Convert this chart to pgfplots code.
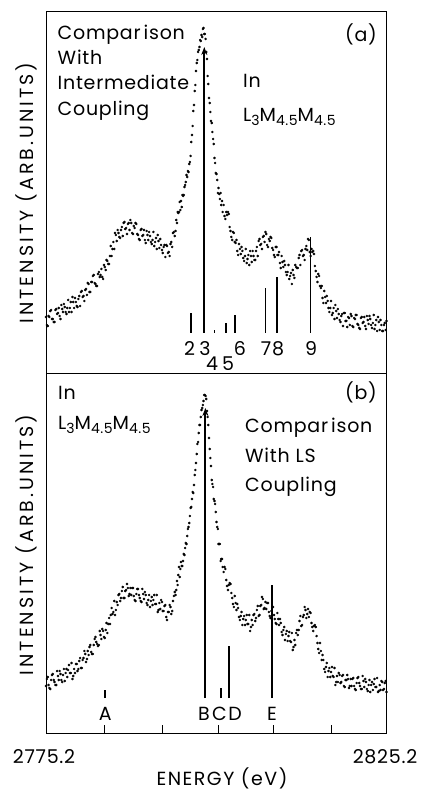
\documentclass[border=0pt]{standalone}
\usepackage{fontspec}
\setmainfont{Poppins}[LetterSpace=4]
\usepackage{pgfplots}
\pgfplotsset{compat=1.18}
\usetikzlibrary{arrows.meta}
\newcommand\bigf{\fontsize{19}{22}\selectfont}
\newcommand\subf[1]{\raisebox{-4pt}{\fontsize{14}{14}\selectfont #1}}
\newcommand\Comp{Compar\kern3pt ison}
\pgfplotsset{
  spec/.style={scale only axis, width=341pt, xmin=2775.2, xmax=2825.2, ymin=0,
    axis line style={line width=1pt}, ytick=\empty,
    /pgf/number format/assume math mode=true,
    ticklabel style={font=\bigf}, label style={font=\bigf}},
  data/.style={only marks, mark=*, mark size=1.05pt, black},
  stick/.style={black, line width=1.6pt},
}
\begin{document}
\begin{tikzpicture}
\useasboundingbox (0,0) rectangle (422pt,793pt);
% ---------------- panel (a)
\begin{axis}[spec, at={(46pt,419pt)}, anchor=south west, height=362pt, ymax=362,
  xtick=\empty,
  ylabel={\addfontfeature{LetterSpace=16}INTENSITY (ARB.UNITS)},
  ylabel style={at={(axis description cs:-0.057,0.5)}, anchor=center, inner sep=0pt}]
\addplot[data] coordinates {
(2775.20,57)(2775.45,48)(2775.70,57)(2775.95,64)(2776.20,55)(2776.45,52)(2776.70,65)(2776.95,61)(2777.20,58)(2777.45,69)(2777.70,62)(2777.95,67)(2778.20,60)(2778.45,74)(2778.70,66)(2778.95,62)(2779.20,72)(2779.45,76)(2779.70,68)(2779.95,75)(2780.20,68)(2780.45,83)(2780.70,78)(2780.95,84)(2781.20,79)(2781.45,90)(2781.70,82)(2781.95,92)(2782.20,99)(2782.45,90)(2782.70,88)(2782.95,102)(2783.20,99)(2783.45,97)(2783.70,109)(2783.95,104)(2784.20,113)(2784.45,110)(2784.70,128)(2784.95,125)(2785.20,125)(2785.45,139)(2785.70,144)(2785.95,137)(2786.20,144)(2786.45,138)(2786.70,152)(2786.95,146)(2787.20,150)(2787.45,144)(2787.70,151)(2787.95,140)(2788.20,146)(2788.45,150)(2788.70,139)(2788.95,134)(2789.20,145)(2789.45,139)(2789.70,134)(2789.95,143)(2790.20,134)(2790.45,138)(2790.70,130)(2790.95,142)(2791.20,132)(2791.45,125)(2791.70,133)(2791.95,135)(2792.20,124)(2792.45,127)(2792.70,117)(2792.95,128)(2793.20,122)(2793.45,130)(2793.70,127)(2793.95,142)(2794.20,143)
(2794.3,154)(2794.4,151)(2794.5,162)(2794.6,161)(2794.7,162)(2794.8,172)(2794.9,164)(2795.0,173)(2795.1,167)(2795.2,179)(2795.3,178)(2795.4,179)(2795.5,187)(2795.6,189)(2795.7,192)(2795.8,199)(2795.9,197)(2796.0,203)(2796.1,202)(2796.2,210)(2796.3,212)(2796.4,218)(2796.5,232)(2796.6,239)(2796.7,248)(2796.8,263)(2796.9,269)(2797.0,283)(2797.1,289)(2797.2,303)(2797.3,311)(2797.4,314)(2797.5,322)(2797.6,324)(2797.7,327)(2797.8,334)(2797.9,333)(2798.0,339)(2798.1,337)(2798.2,345)(2798.3,346)(2798.4,340)(2798.5,340)(2798.6,335)(2798.7,322)(2798.8,315)(2798.9,298)(2799.0,290)(2799.1,276)(2799.2,271)(2799.3,262)(2799.4,253)(2799.5,251)(2799.6,242)(2799.7,235)(2799.8,230)(2799.9,216)(2800.0,211)(2800.1,201)(2800.2,200)(2800.3,194)(2800.4,181)(2800.5,186)(2800.6,180)(2800.7,175)(2800.8,181)(2800.9,169)(2801.0,173)(2801.1,162)
(2801.25,169)(2801.50,155)(2801.75,159)(2802.00,160)(2802.25,143)(2802.50,134)(2802.75,141)(2803.00,131)(2803.25,123)(2803.50,130)(2803.75,120)(2804.00,123)(2804.25,113)(2804.50,125)(2804.75,115)(2805.00,109)(2805.25,118)(2805.50,123)(2805.75,114)(2806.00,123)(2806.25,118)(2806.50,135)(2806.75,130)(2807.00,137)(2807.25,132)(2807.50,140)(2807.75,127)(2808.00,133)(2808.25,136)(2808.50,124)(2808.75,117)(2809.00,127)(2809.25,119)(2809.50,111)(2809.75,118)(2810.00,107)(2810.25,109)(2810.50,99)(2810.75,109)(2811.00,98)(2811.25,90)(2811.50,99)(2811.75,109)(2812.00,106)(2812.25,116)(2812.50,109)(2812.75,124)(2813.00,119)(2813.25,125)(2813.50,124)(2813.75,134)(2814.00,118)(2814.25,122)(2814.50,120)(2814.75,103)(2815.00,92)(2815.25,98)(2815.50,86)(2815.75,76)(2816.00,83)(2816.25,71)(2816.50,73)(2816.75,62)(2817.00,73)(2817.25,61)(2817.50,55)(2817.75,63)(2818.00,65)(2818.25,54)(2818.50,58)(2818.75,48)(2819.00,61)(2819.25,53)(2819.50,57)(2819.75,49)(2820.00,58)(2820.25,47)(2820.50,55)(2820.75,59)(2821.00,49)(2821.25,45)(2821.50,57)(2821.75,52)(2822.00,48)(2822.25,58)(2822.50,50)(2822.75,55)(2823.00,46)(2823.25,59)(2823.50,49)(2823.75,43)(2824.00,52)(2824.25,54)(2824.50,43)(2824.75,49)(2825.00,44)
};
\addplot[data] coordinates {
(2775.325,49)(2775.575,58)(2775.825,63)(2776.075,55)(2776.325,52)(2776.575,64)(2776.825,60)(2777.075,66)(2777.325,55)(2777.575,65)(2777.825,70)(2778.075,62)(2778.325,66)(2778.575,62)(2778.825,72)(2779.075,77)(2779.325,66)(2779.575,72)(2779.825,67)(2780.075,78)(2780.325,82)(2780.575,77)(2780.825,73)(2781.075,85)(2781.325,91)(2781.575,82)(2781.825,92)(2782.075,98)(2782.325,91)(2782.575,88)(2782.825,100)(2783.075,97)(2783.325,105)(2783.575,95)(2783.825,107)(2784.075,114)(2784.325,110)(2784.575,118)(2784.825,118)(2785.075,132)(2785.325,141)(2785.575,133)(2785.825,141)(2786.075,136)(2786.325,147)(2786.575,151)(2786.825,145)(2787.075,140)(2787.325,151)(2787.575,154)(2787.825,141)(2788.075,148)(2788.325,151)(2788.575,140)(2788.825,135)(2789.075,144)(2789.325,138)(2789.575,144)(2789.825,131)(2790.075,139)(2790.325,142)(2790.575,132)(2790.825,134)(2791.075,128)(2791.325,136)(2791.575,139)(2791.825,126)(2792.075,129)(2792.325,121)(2792.575,129)(2792.825,129)(2793.075,121)(2793.325,118)(2793.575,132)(2793.825,141)(2794.075,138)
(2801.375,158)(2801.625,162)(2801.875,162)(2802.125,147)(2802.375,137)(2802.625,142)(2802.875,132)(2803.125,134)(2803.375,119)(2803.625,125)(2803.875,127)(2804.125,116)(2804.375,118)(2804.625,111)(2804.875,119)(2805.125,123)(2805.375,112)(2805.625,118)(2805.875,114)(2806.125,127)(2806.375,133)(2806.625,129)(2806.875,125)(2807.125,138)(2807.375,142)(2807.625,129)(2807.875,135)(2808.125,137)(2808.375,126)(2808.625,119)(2808.875,127)(2809.125,119)(2809.375,122)(2809.625,106)(2809.875,112)(2810.125,113)(2810.375,102)(2810.625,102)(2810.875,95)(2811.125,101)(2811.375,104)(2811.625,96)(2811.875,107)(2812.125,106)(2812.375,119)(2812.625,123)(2812.875,118)(2813.125,114)(2813.375,128)(2813.625,135)(2813.875,122)(2814.125,125)(2814.375,123)(2814.625,108)(2814.875,97)(2815.125,100)(2815.375,88)(2815.625,88)(2815.875,71)(2816.125,77)(2816.375,78)(2816.625,66)(2816.875,66)(2817.125,59)(2817.375,66)(2817.625,69)(2817.875,56)(2818.125,60)(2818.375,52)(2818.625,60)(2818.875,61)(2819.125,53)(2819.375,47)(2819.625,56)(2819.875,60)(2820.125,48)(2820.375,56)(2820.625,59)(2820.875,50)(2821.125,46)(2821.375,56)(2821.625,51)(2821.875,57)(2822.125,45)(2822.375,54)(2822.625,58)(2822.875,49)(2823.125,51)(2823.375,45)(2823.625,54)(2823.875,57)(2824.125,44)(2824.375,49)(2824.625,43)(2824.875,51)(2825.125,53)
};
% calculated lines, intermediate coupling
\addplot[stick] coordinates {(2796.42,41) (2796.42,61)};
\addplot[stick, line width=1.8pt, -{Stealth[length=8pt,width=6pt]}] coordinates {(2798.41,41) (2798.41,327)};
\addplot[stick] coordinates {(2799.88,41) (2799.88,44)};
\addplot[stick] coordinates {(2801.55,41) (2801.55,51)};
\addplot[stick] coordinates {(2802.91,41) (2802.91,59)};
\addplot[stick] coordinates {(2807.41,41) (2807.41,86)};
\addplot[stick] coordinates {(2809.03,41) (2809.03,97)};
\addplot[stick] coordinates {(2814.01,41) (2814.01,137)};
\begin{scope}[every node/.style={font=\bigf, inner sep=0pt}]
\node[anchor=base] at (axis cs:2796.27,18) {2};
\node[anchor=base] at (axis cs:2798.51,18) {3};
\node[anchor=base] at (axis cs:2799.54,3.3) {4};
\node[anchor=base] at (axis cs:2801.89,3.3) {5};
\node[anchor=base] at (axis cs:2803.65,18) {6};
\node[anchor=base] at (axis cs:2807.46,18) {7};
\node[anchor=base] at (axis cs:2809.22,18) {8};
\node[anchor=base] at (axis cs:2814.06,18) {9};
\node[anchor=base west] at (axis cs:2776.89,334.7) {\Comp};
\node[anchor=base west] at (axis cs:2776.89,309) {With};
\node[anchor=base west] at (axis cs:2776.89,284) {Intermediate};
\node[anchor=base west] at (axis cs:2776.89,258.3) {Coupling};
\node[anchor=base east] at (axis cs:2823.73,332) {(a)};
\node[anchor=base west] at (axis cs:2804.09,286) {In};
\node[anchor=base west] at (axis cs:2804.09,252) {L\subf{3}M\subf{4.5}M\subf{4.5}};
\end{scope}
\end{axis}
% ---------------- panel (b)
\begin{axis}[spec, at={(46pt,60pt)}, anchor=south west, height=359pt, ymax=359,
  xtick={2775.2,2783.85,2792.21,2800.42,2808.63,2816.99,2825.2},
  xticklabels={2775.2,{},{},{},{},{},2825.2},
  tick pos=left, major tick length=8pt, tick style={line width=1pt, black},
  xticklabel style={anchor=center, yshift=-24pt, xshift=-2pt},
  ylabel={\addfontfeature{LetterSpace=16}INTENSITY (ARB.UNITS)},
  ylabel style={at={(axis description cs:-0.057,0.524)}, anchor=center, inner sep=0pt},
  xlabel={\addfontfeature{LetterSpace=8}ENERGY (eV)},
  xlabel style={at={(axis description cs:0.516,-0.126)}, anchor=center, inner sep=0pt}]
\addplot[data] coordinates {
(2775.20,47)(2775.45,56)(2775.70,45)(2775.95,53)(2776.20,59)(2776.45,51)(2776.70,48)(2776.95,57)(2777.20,62)(2777.45,53)(2777.70,58)(2777.95,52)(2778.20,64)(2778.45,63)(2778.70,60)(2778.95,70)(2779.20,57)(2779.45,60)(2779.70,69)(2779.95,64)(2780.20,75)(2780.45,65)(2780.70,75)(2780.95,79)(2781.20,74)(2781.45,78)(2781.70,88)(2781.95,79)(2782.20,88)(2782.45,96)(2782.70,89)(2782.95,88)(2783.20,98)(2783.45,104)(2783.70,96)(2783.95,103)(2784.20,100)(2784.45,115)(2784.70,118)(2784.95,119)(2785.20,132)(2785.45,123)(2785.70,128)(2785.95,139)(2786.20,135)(2786.45,146)(2786.70,135)(2786.95,143)(2787.20,145)(2787.45,139)(2787.70,138)(2787.95,145)(2788.20,133)(2788.45,139)(2788.70,144)(2788.95,135)(2789.20,131)(2789.45,139)(2789.70,141)(2789.95,130)(2790.20,133)(2790.45,126)(2790.70,136)(2790.95,133)(2791.20,129)(2791.45,138)(2791.70,123)(2791.95,124)(2792.20,131)(2792.45,122)(2792.70,128)(2792.95,113)(2793.20,121)(2793.45,126)(2793.70,122)(2793.95,137)(2794.20,138)
(2794.3,143)(2794.4,152)(2794.5,148)(2794.6,158)(2794.7,166)(2794.8,156)(2794.9,164)(2795.0,171)(2795.1,167)(2795.2,167)(2795.3,172)(2795.4,179)(2795.5,178)(2795.6,185)(2795.7,190)(2795.8,189)(2795.9,197)(2796.0,204)(2796.1,206)(2796.2,210)(2796.3,217)(2796.4,225)(2796.5,226)(2796.6,234)(2796.7,241)(2796.8,240)(2796.9,248)(2797.0,258)(2797.1,263)(2797.2,270)(2797.3,279)(2797.4,289)(2797.5,291)(2797.6,300)(2797.7,308)(2797.8,308)(2797.9,316)(2798.0,323)(2798.1,325)(2798.2,328)(2798.3,332)(2798.4,338)(2798.5,338)(2798.6,337)(2798.7,334)(2798.8,322)(2798.9,316)(2799.0,308)(2799.1,295)(2799.2,284)(2799.3,275)(2799.4,267)(2799.5,253)(2799.6,249)(2799.7,246)(2799.8,234)(2799.9,232)(2800.0,229)(2800.1,221)(2800.2,211)(2800.3,206)(2800.4,204)(2800.5,189)(2800.6,189)(2800.7,189)(2800.8,172)(2800.9,174)(2801.0,174)(2801.1,166)
(2801.25,161)(2801.50,164)(2801.75,147)(2802.00,148)(2802.25,149)(2802.50,135)(2802.75,126)(2803.00,130)(2803.25,129)(2803.50,116)(2803.75,117)(2804.00,108)(2804.25,117)(2804.50,113)(2804.75,109)(2805.00,118)(2805.25,106)(2805.50,108)(2805.75,119)(2806.00,115)(2806.25,127)(2806.50,118)(2806.75,128)(2807.00,134)(2807.25,125)(2807.50,124)(2807.75,130)(2808.00,117)(2808.25,122)(2808.50,126)(2808.75,114)(2809.00,109)(2809.25,114)(2809.50,114)(2809.75,101)(2810.00,103)(2810.25,93)(2810.50,102)(2810.75,97)(2811.00,92)(2811.25,100)(2811.50,86)(2811.75,88)(2812.00,103)(2812.25,103)(2812.50,117)(2812.75,108)(2813.00,118)(2813.25,123)(2813.50,119)(2813.75,116)(2814.00,120)(2814.25,106)(2814.50,107)(2814.75,106)(2815.00,90)(2815.25,80)(2815.50,82)(2815.75,78)(2816.00,64)(2816.25,66)(2816.50,56)(2816.75,65)(2817.00,61)(2817.25,57)(2817.50,65)(2817.75,51)(2818.00,51)(2818.25,58)(2818.50,51)(2818.75,58)(2819.00,46)(2819.25,53)(2819.50,54)(2819.75,47)(2820.00,47)(2820.25,55)(2820.50,44)(2820.75,50)(2821.00,56)(2821.25,47)(2821.50,44)(2821.75,52)(2822.00,54)(2822.25,44)(2822.50,48)(2822.75,41)(2823.00,51)(2823.25,49)(2823.50,46)(2823.75,55)(2824.00,42)(2824.25,43)(2824.50,51)(2824.75,44)(2825.00,52)
};
\addplot[data] coordinates {
(2775.325,54)(2775.575,48)(2775.825,44)(2776.075,58)(2776.325,53)(2776.575,48)(2776.825,62)(2777.075,53)(2777.325,59)(2777.575,51)(2777.825,64)(2778.075,60)(2778.325,56)(2778.575,68)(2778.825,60)(2779.075,54)(2779.325,64)(2779.575,69)(2779.825,62)(2780.075,72)(2780.325,65)(2780.575,73)(2780.825,82)(2781.075,71)(2781.325,82)(2781.575,86)(2781.825,81)(2782.075,79)(2782.325,94)(2782.575,91)(2782.825,87)(2783.075,102)(2783.325,94)(2783.575,102)(2783.825,95)(2784.075,110)(2784.325,109)(2784.575,109)(2784.825,125)(2785.075,121)(2785.325,118)(2785.575,131)(2785.825,138)(2786.075,132)(2786.325,142)(2786.575,135)(2786.825,142)(2787.075,149)(2787.325,137)(2787.575,145)(2787.825,145)(2788.075,137)(2788.325,132)(2788.575,144)(2788.825,138)(2789.075,132)(2789.325,144)(2789.575,134)(2789.825,138)(2790.075,128)(2790.325,138)(2790.575,132)(2790.825,128)(2791.075,138)(2791.325,129)(2791.575,121)(2791.825,130)(2792.075,133)(2792.325,122)(2792.575,127)(2792.825,116)(2793.075,121)(2793.325,128)(2793.575,119)(2793.825,132)(2794.075,141)
(2801.375,166)(2801.625,153)(2801.875,143)(2802.125,150)(2802.375,140)(2802.625,129)(2802.875,137)(2803.125,123)(2803.375,125)(2803.625,113)(2803.875,121)(2804.125,114)(2804.375,108)(2804.625,118)(2804.875,109)(2805.125,102)(2805.375,113)(2805.625,118)(2805.875,112)(2806.125,123)(2806.375,117)(2806.625,127)(2806.875,136)(2807.125,124)(2807.375,131)(2807.625,130)(2807.875,121)(2808.125,115)(2808.375,126)(2808.625,118)(2808.875,110)(2809.125,120)(2809.375,108)(2809.625,110)(2809.875,98)(2810.125,106)(2810.375,99)(2810.625,92)(2810.875,101)(2811.125,91)(2811.375,83)(2811.625,93)(2811.875,100)(2812.125,98)(2812.375,112)(2812.625,107)(2812.875,116)(2813.125,126)(2813.375,115)(2813.625,124)(2813.875,121)(2814.125,110)(2814.375,102)(2814.625,108)(2814.875,97)(2815.125,84)(2815.375,90)(2815.625,73)(2815.875,73)(2816.125,61)(2816.375,70)(2816.625,62)(2816.875,56)(2817.125,66)(2817.375,56)(2817.625,48)(2817.875,57)(2818.125,60)(2818.375,50)(2818.625,57)(2818.875,47)(2819.125,53)(2819.375,58)(2819.625,45)(2819.875,54)(2820.125,54)(2820.375,47)(2820.625,43)(2820.875,55)(2821.125,50)(2821.375,44)(2821.625,57)(2821.875,46)(2822.125,51)(2822.375,42)(2822.625,53)(2822.875,48)(2823.125,43)(2823.375,54)(2823.625,46)(2823.875,41)(2824.125,48)(2824.375,52)(2824.625,43)(2824.875,50)(2825.125,41)
};
% calculated lines, LS coupling
\addplot[stick] coordinates {(2783.85,35) (2783.85,43)};
\addplot[stick, line width=1.8pt, -{Stealth[length=8pt,width=6pt]}] coordinates {(2798.57,35) (2798.57,325)};
\addplot[stick] coordinates {(2800.86,35) (2800.86,45)};
\addplot[stick] coordinates {(2801.99,35) (2801.99,87)};
\addplot[stick] coordinates {(2808.34,35) (2808.34,148)};
\begin{scope}[every node/.style={font=\bigf, inner sep=0pt}]
\node[anchor=base] at (axis cs:2783.90,12.3) {A};
\node[anchor=base] at (axis cs:2798.37,12.3) {B};
\node[anchor=base] at (axis cs:2800.64,12.3) {C};
\node[anchor=base] at (axis cs:2802.91,12.3) {D};
\node[anchor=base] at (axis cs:2808.34,12.3) {E};
\node[anchor=base west] at (axis cs:2776.96,333) {In};
\node[anchor=base west] at (axis cs:2776.96,303) {L\subf{3}M\subf{4.5}M\subf{4.5}};
\node[anchor=base east] at (axis cs:2823.73,333) {(b)};
\node[anchor=base west] at (axis cs:2804.38,300.3) {\Comp};
\node[anchor=base west] at (axis cs:2804.38,270.3) {With LS};
\node[anchor=base west] at (axis cs:2804.38,241.3) {Coupling};
\end{scope}
\end{axis}
\end{tikzpicture}
\end{document}
